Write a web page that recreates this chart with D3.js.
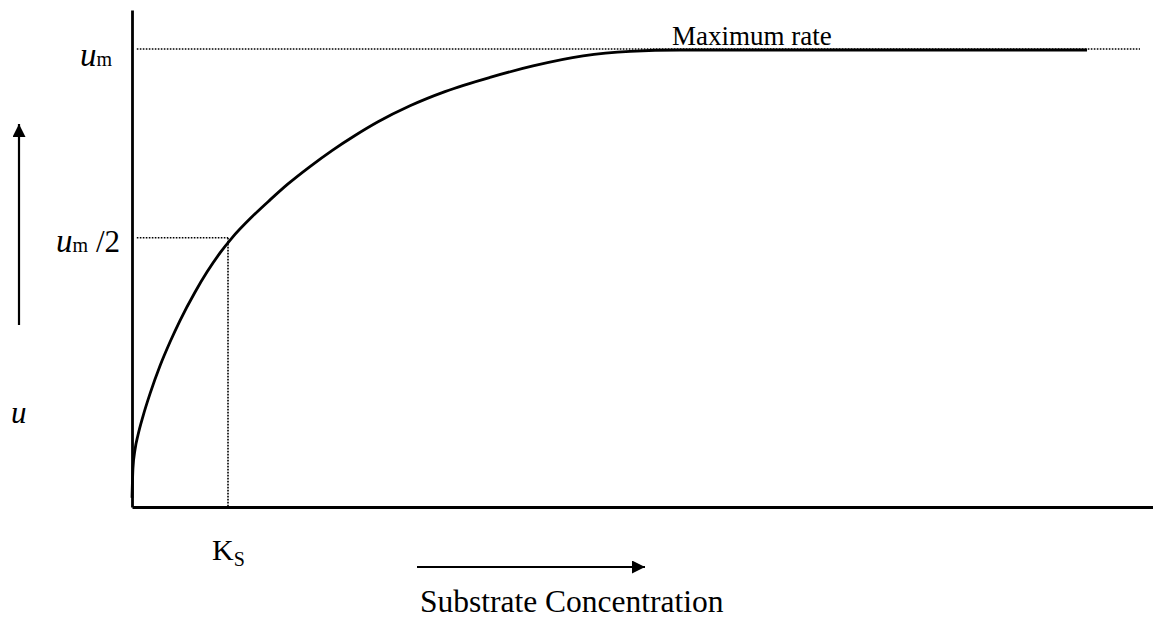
<!DOCTYPE html>
<html>
<head>
<meta charset="utf-8">
<script src="https://cdn.jsdelivr.net/npm/d3@7/dist/d3.min.js"></script>
<style>
  body { margin: 0; background: #fff; }
  svg { display: block; }
  text { font-family: "Liberation Serif", "Times New Roman", serif; fill: #000; }
  .axis path { stroke: #000; stroke-width: 2.8; }
  .dotted { stroke: #000; stroke-width: 1.6; stroke-dasharray: 1.6,1.4; fill: none; }
</style>
</head>
<body>
<svg id="chart" width="1153" height="623"></svg>
<script>
// substrate concentration (in units of Ks) vs rate (in units of um)
const concentration = [0, 0.01, 0.031, 0.063, 0.115, 0.188, 0.292, 0.396, 0.5, 0.656, 0.781, 0.917, 1.042,
                       1.25, 1.438, 1.625, 1.854, 2.083, 2.323, 2.563, 2.896, 3.26, 3.729, 4.177, 4.698, 5.188, 5.708, 9.948];
const rate          = [0.020, 0.085, 0.125, 0.158, 0.199, 0.248, 0.309, 0.361, 0.408, 0.470, 0.514, 0.556, 0.589,
                       0.635, 0.672, 0.707, 0.745, 0.780, 0.813, 0.843, 0.878, 0.909, 0.940, 0.965, 0.987, 0.997, 1.0, 1.0];
const maxRate = 1.0;
const halfRate = 0.589;   // where the um/2 guide sits on the drawing
const ks = 1.0;
const guideStart = 0.05;
const guideEnd = 10.5;

const svg = d3.select('#chart');
const x = d3.scaleLinear().domain([0, 10.635]).range([132, 1153]);
const y = d3.scaleLinear().domain([0, 1.0875]).range([507, 10]);

// axes, no ticks
svg.append('g').attr('class', 'axis')
  .attr('transform', 'translate(0,' + y(0) + ')')
  .call(d3.axisBottom(x).tickValues([]).tickSizeOuter(0));
svg.append('g').attr('class', 'axis')
  .attr('transform', 'translate(' + x(0) + ',0)')
  .call(d3.axisLeft(y).tickValues([]).tickSizeOuter(0));

// dotted guides
svg.append('line').attr('class', 'dotted')
  .attr('x1', x(guideStart)).attr('x2', x(guideEnd))
  .attr('y1', y(maxRate) - 1).attr('y2', y(maxRate) - 1);
svg.append('line').attr('class', 'dotted')
  .attr('x1', x(guideStart)).attr('x2', x(ks))
  .attr('y1', y(halfRate)).attr('y2', y(halfRate));
svg.append('line').attr('class', 'dotted')
  .attr('x1', x(ks)).attr('x2', x(ks))
  .attr('y1', y(halfRate)).attr('y2', y(0));

// the curve
let pts = concentration.map((c, i) => [c, rate[i]]);
let line = d3.line().x(d => x(d[0])).y(d => y(d[1])).curve(d3.curveMonotoneX);
svg.append('path').datum(pts)
  .attr('d', line)
  .attr('fill', 'none').attr('stroke', '#000').attr('stroke-width', 2.8);

// labels on y
let um = svg.append('text').attr('x', 112).attr('y', y(maxRate) + 16).attr('text-anchor', 'end');
um.append('tspan').text('u').attr('font-style', 'italic').attr('font-size', 33);
um.append('tspan').text('m').attr('font-size', 20);

let umHalf = svg.append('text').attr('x', 120).attr('y', y(halfRate) + 14).attr('text-anchor', 'end');
umHalf.append('tspan').text('u').attr('font-style', 'italic').attr('font-size', 33);
umHalf.append('tspan').text('m').attr('font-size', 20);
umHalf.append('tspan').text(' /2').attr('font-size', 31);

svg.append('text').text('u')
  .attr('x', 11).attr('y', 423)
  .attr('font-style', 'italic').attr('font-size', 31);

// Ks
let ksText = svg.append('text').attr('x', x(ks) - 16).attr('y', 560);
ksText.append('tspan').text('K').attr('font-size', 30);
ksText.append('tspan').text('S').attr('font-size', 20).attr('dy', 6);

svg.append('text').text('Maximum rate')
  .attr('x', 672).attr('y', 45).attr('font-size', 27);

svg.append('text').text('Substrate Concentration')
  .attr('x', 420).attr('y', 612).attr('font-size', 31.5);

// arrows
svg.append('defs').append('marker')
  .attr('id', 'head').attr('viewBox', '0 0 10 10')
  .attr('refX', 10).attr('refY', 5)
  .attr('markerWidth', 13).attr('markerHeight', 13)
  .attr('markerUnits', 'userSpaceOnUse')
  .attr('orient', 'auto')
  .append('path').attr('d', 'M0,0 L10,5 L0,10 Z').attr('fill', '#000');

svg.append('line')
  .attr('x1', 19).attr('x2', 19).attr('y1', 325).attr('y2', 124)
  .attr('stroke', '#000').attr('stroke-width', 2.2)
  .attr('marker-end', 'url(#head)');
svg.append('line')
  .attr('x1', 417).attr('x2', 645).attr('y1', 567).attr('y2', 567)
  .attr('stroke', '#000').attr('stroke-width', 2.2)
  .attr('marker-end', 'url(#head)');
</script>
</body>
</html>
